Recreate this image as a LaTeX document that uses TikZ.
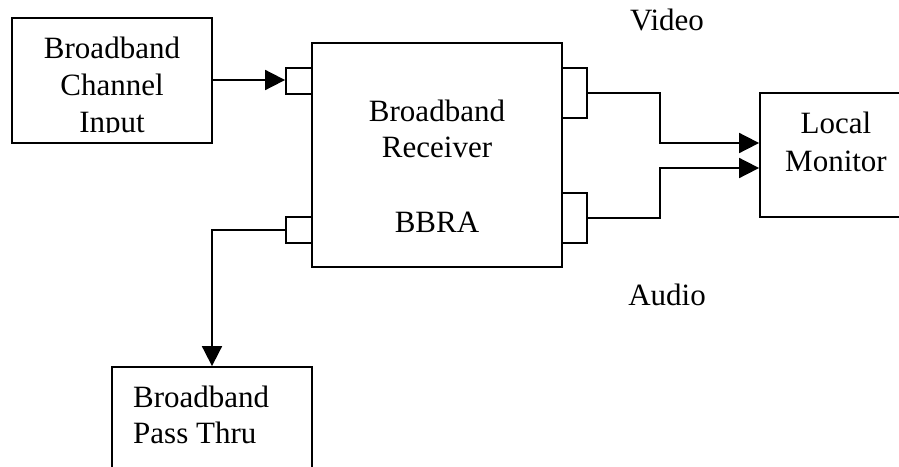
\documentclass[tikz,border=0pt]{standalone}
\usepackage{fontspec}
\setmainfont{Liberation Serif}
\usetikzlibrary{arrows.meta,calc}
\tikzset{
  blk/.style={draw, line width=1.8pt, rectangle, inner sep=0pt},
  lbl/.style={anchor=base, inner sep=0pt, font=\fontsize{31}{37}\selectfont},
  conn/.style={line width=1.8pt, -{Triangle[length=20pt,width=20pt]}},
  wire/.style={line width=1.8pt}
}
\begin{document}
\begin{tikzpicture}[x=1pt,y=-1pt]
\useasboundingbox (0,0) rectangle (899,466);
\clip (0,0) rectangle (899,466);
% boxes
\node[blk, minimum width=200pt, minimum height=125pt] (inbox) at (112,80.5) {};
\node[blk, minimum width=250pt, minimum height=224pt] (main) at (437,155) {};
\node[blk, minimum width=26pt, minimum height=26pt] (pin) at (299,81) {};
\node[blk, minimum width=26pt, minimum height=26pt] (pbl) at (299,230) {};
\node[blk, minimum width=25pt, minimum height=50pt] (pv) at (574.5,93) {};
\node[blk, minimum width=25pt, minimum height=50pt] (pa) at (574.5,218) {};
\node[blk, minimum width=160pt, minimum height=124pt] (mon) at (840,155) {};
\node[blk, minimum width=200pt, minimum height=130pt] (pass) at (212,432) {};
% texts
\node[lbl] (t1) at (112,58) {Broadband};
\node[lbl] (t2) at (112,95) {Channel};
\begin{scope}
\clip (12,100) rectangle (212,132);
\node[lbl] (t3) at (112,132) {Input};
\end{scope}
\node[lbl] (m1) at (437,121) {Broadband};
\node[lbl] (m2) at (437,157) {Receiver};
\node[lbl] (m3) at (437,232) {BBRA};
\node[lbl] (l1) at (836,133) {Local};
\node[lbl] (l2) at (836,171) {Monitor};
\node[lbl, anchor=base west] (p1) at (133,407) {Broadband};
\node[lbl, anchor=base west] (p2) at (133,443) {Pass Thru};
\node[lbl] (vid) at (667,30) {Video};
\node[lbl] (aud) at (667,305) {Audio};
% connectors
\draw[conn] (inbox.east |- 0,80) -- (pin.west |- 0,80);
\coordinate (vt) at ($(mon.west)+(0,-12)$);
\coordinate (at) at ($(mon.west)+(0,13)$);
\draw[conn] (pv.east) -- (660,93) |- (vt);
\draw[conn] (pa.east) -- (660,218) |- (at);
\draw[conn] (pbl.west) -| (pass.north);
\end{tikzpicture}
\end{document}
